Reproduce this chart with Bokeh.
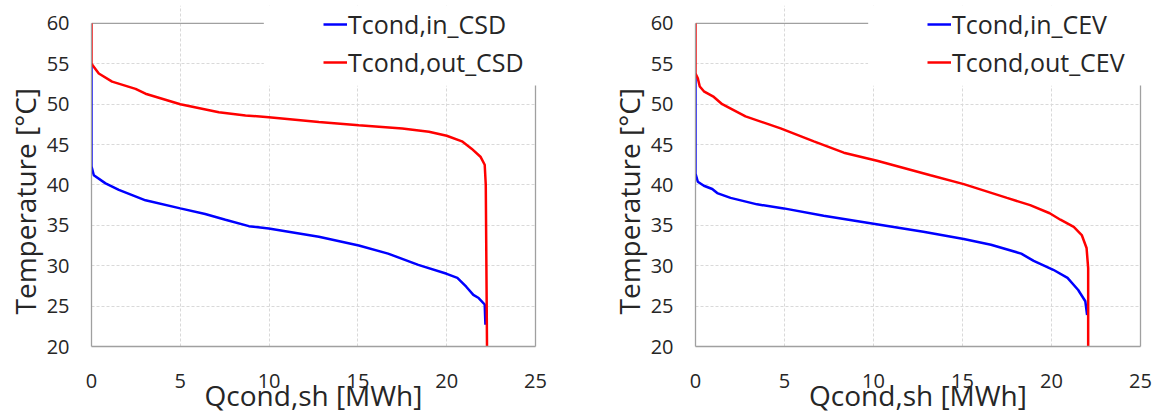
from bokeh.plotting import figure
from bokeh.layouts import row
from bokeh.models import Range1d, LinearAxis, FixedTicker, BoxAnnotation, Legend, LegendItem, Title
from bokeh.embed import file_html
from bokeh.resources import INLINE

FONT = "Open Sans"
TEXT = "#262626"
SPINE = "#a0a0a0"

x_ticks = [0, 5, 10, 15, 20, 25]
y_ticks = [20, 25, 30, 35, 40, 45, 50, 55, 60]
x_title = "Qcond,sh [MWh]"
y_title = "Temperature [°C]"

# CSD
csd_in_q = [0, 0, 0.13, 0.79, 1.54, 3.04, 5.0, 6.4, 7.54, 8.86, 9.98, 12.8, 15.05, 16.7, 18.4, 20.0, 20.6, 21.1, 21.5, 21.8, 22.14, 22.18]
csd_in_t = [55, 42.3, 41.2, 40.2, 39.4, 38.1, 37.1, 36.4, 35.7, 34.9, 34.6, 33.6, 32.5, 31.5, 30.1, 29.0, 28.5, 27.4, 26.4, 26.0, 25.2, 22.7]
csd_out_q = [0, 0, 0.41, 1.16, 2.48, 3.04, 5.0, 7.17, 8.67, 9.98, 12.8, 15.05, 17.5, 19.0, 20.0, 20.86, 21.4, 21.9, 22.14, 22.2, 22.27]
csd_out_t = [60, 55, 53.8, 52.8, 51.9, 51.3, 50.0, 49.0, 48.6, 48.4, 47.8, 47.4, 47.0, 46.6, 46.1, 45.4, 44.5, 43.5, 42.5, 40.0, 20.0]

# CEV
cev_in_q = [0, 0, 0.13, 0.47, 0.94, 1.22, 1.97, 3.46, 4.96, 7.2, 10.0, 12.8, 15.07, 16.6, 18.3, 19.0, 20.1, 20.9, 21.5, 21.9, 22.0]
cev_in_t = [53.8, 41.4, 40.4, 39.9, 39.5, 39.0, 38.4, 37.6, 37.1, 36.2, 35.2, 34.2, 33.3, 32.6, 31.5, 30.6, 29.5, 28.5, 27.0, 25.6, 23.9]
cev_out_q = [0, 0, 0.13, 0.24, 0.47, 1.03, 1.5, 2.81, 4.78, 6.65, 8.33, 10.2, 11.7, 13.2, 15.07, 17.5, 18.8, 19.9, 20.5, 21.25, 21.7, 21.97, 22.06, 22.06]
cev_out_t = [60, 53.8, 53.2, 52.2, 51.6, 50.9, 50.0, 48.5, 47.0, 45.4, 44.0, 43.0, 42.1, 41.2, 40.1, 38.4, 37.5, 36.5, 35.7, 34.8, 33.8, 32.2, 29.7, 20.0]

# layout constants (pixels / axis-space positions of the legend box)
FIG_H = 416
TOP_B = 5
BOT_B = 69
FRAME_H = FIG_H - TOP_B - BOT_B
Y_SPAN_PX = 324.0            # pixels from y=20 to y=60
Y_MAX = 20 + 40 * FRAME_H / Y_SPAN_PX
LEG_LEFT = 9.7               # x where legend region starts
LEG_BOTTOM = 52.3            # y where legend region ends


def make(q_in, t_in, q_out, t_out, lab_in, lab_out, width, border_left, border_right):
    p = figure(width=width, height=FIG_H, x_range=Range1d(0, 25), y_range=Range1d(20, Y_MAX),
               output_backend="svg", toolbar_location=None,
               min_border_left=border_left, min_border_right=border_right,
               min_border_top=TOP_B, min_border_bottom=BOT_B)
    p.outline_line_color = None
    p.background_fill_color = "white"

    for ax in (p.xaxis[0], p.yaxis[0]):
        ax.major_tick_out = 0
        ax.major_tick_in = 0
        ax.minor_tick_out = 0
        ax.minor_tick_in = 0
        ax.axis_line_color = SPINE
        ax.axis_line_width = 1.3
        ax.major_label_text_font = FONT
        ax.major_label_text_font_size = "20px"
        ax.major_label_text_color = TEXT
        ax.axis_label_text_font = FONT
        ax.axis_label_text_font_size = "28px"
        ax.axis_label_text_font_style = "normal"
        ax.axis_label_text_color = TEXT
    p.xaxis[0].ticker = FixedTicker(ticks=x_ticks)
    p.yaxis[0].ticker = FixedTicker(ticks=y_ticks)
    p.yaxis[0].bounds = (y_ticks[0], y_ticks[-1])
    p.xaxis[0].major_label_standoff = 27
    p.yaxis[0].major_label_standoff = 22
    p.xaxis[0].axis_label = x_title
    p.xaxis[0].axis_label_standoff = -15

    # y title as a side title so it can sit lower than the (extended) frame centre
    yt = Title(text=y_title, align="left", offset=32, standoff=0,
               text_font=FONT, text_font_size="28px", text_font_style="normal",
               text_color=TEXT)
    p.add_layout(yt, "left")

    p.xgrid.ticker = FixedTicker(ticks=x_ticks)
    p.ygrid.ticker = FixedTicker(ticks=y_ticks)
    p.xgrid.bounds = (y_ticks[0], y_ticks[-1])
    for g in (p.xgrid[0], p.ygrid[0]):
        g.grid_line_color = "#d9d9d9"
        g.grid_line_dash = "3 2"
        g.grid_line_width = 1

    # partial right frame line (interrupted by the legend)
    right = LinearAxis(ticker=FixedTicker(ticks=[]), bounds=(y_ticks[0], LEG_BOTTOM), major_tick_out=0,
                       major_tick_in=0, minor_tick_out=0, minor_tick_in=0,
                       major_label_standoff=0, axis_line_color=SPINE, axis_line_width=1.3)
    p.add_layout(right, "right")

    cover = BoxAnnotation(left=LEG_LEFT, bottom=LEG_BOTTOM, fill_color="white", fill_alpha=1,
                          line_color=None, level="underlay")
    p.add_layout(cover)

    # partial top frame line
    p.segment(x0=[x_ticks[0]], y0=[y_ticks[-1]], x1=[LEG_LEFT], y1=[y_ticks[-1]],
              line_color=SPINE, line_width=1.3)

    r_in = p.line(q_in, t_in, line_color="#0000FF", line_width=2.5)
    r_out = p.line(q_out, t_out, line_color="#FF0000", line_width=2.5)

    leg = Legend(items=[LegendItem(label=lab_in, renderers=[r_in]),
                        LegendItem(label=lab_out, renderers=[r_out])],
                 location=(232, 267), padding=0, margin=0, spacing=4,
                 glyph_width=24, glyph_height=34, label_height=34, label_standoff=1,
                 label_text_font=FONT, label_text_font_size="25px", label_text_color=TEXT,
                 background_fill_alpha=0, border_line_color=None)
    p.add_layout(leg)
    return p


p1 = make(csd_in_q, csd_in_t, csd_out_q, csd_out_t, "Tcond,in_CSD", "Tcond,out_CSD", 560, 91, 25)
p2 = make(cev_in_q, cev_in_t, cev_out_q, cev_out_t, "Tcond,in_CEV", "Tcond,out_CEV", 595, 135, 15)

layout = row(p1, p2)
open("out.html", "w").write(file_html(layout, INLINE))
